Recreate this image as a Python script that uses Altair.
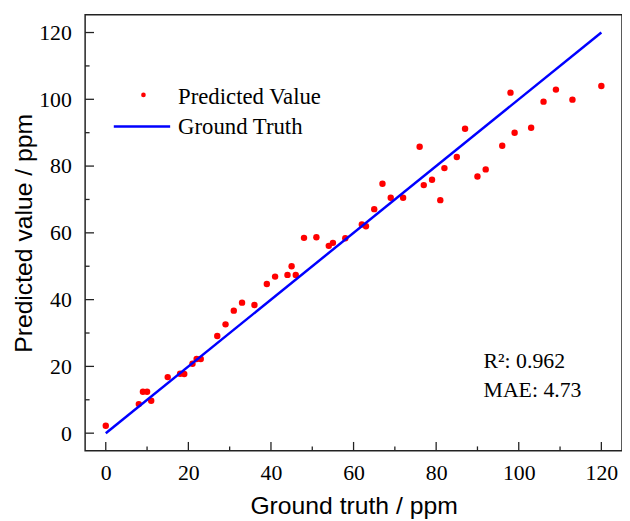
import altair as alt
import pandas as pd

# ---- data ----
ground_truth = [0, 8, 9, 10, 11, 15, 18, 19, 21, 22, 23, 27, 29, 31, 33, 36, 39, 41, 44, 45,
                46, 48, 51, 54, 55, 58, 62, 63, 65, 67, 69, 72, 76, 77, 79, 81, 82, 85, 87, 90,
                92, 96, 98, 99, 103, 106, 109, 113, 120]
predicted = [2.2, 8.7, 12.4, 12.4, 9.7, 16.8, 17.8, 17.7, 20.8, 22.2, 22.2, 29.1, 32.6, 36.7, 39.1,
             38.4, 44.7, 46.9, 47.4, 50.0, 47.4, 58.5, 58.7, 56.1, 57.0, 58.4, 62.5, 62.0, 67.1, 74.7,
             70.5, 70.5, 85.8, 74.3, 75.9, 69.8, 79.4, 82.7, 91.2, 76.9, 79.0, 86.1, 102.0, 90.0, 91.5,
             99.3, 102.9, 99.9, 104.0]
line_x = [0, 120]
line_y = [0, 120]
major_ticks = [0, 20, 40, 60, 80, 100, 120]
minor_ticks = [10, 30, 50, 70, 90, 110]
legend_labels = ["Predicted Value", "Ground Truth"]
metric_labels = ["R\u00b2: 0.962", "MAE: 4.73"]

W, H = 543, 441
SERIF = "Liberation Serif"
SANS = "Liberation Sans"

pts = pd.DataFrame({"gt": ground_truth, "pred": predicted})
ln = pd.DataFrame({"gt": line_x, "pred": line_y})
maj = pd.DataFrame({"v": major_ticks})
mnr = pd.DataFrame({"v": minor_ticks})

xs = alt.Scale(domain=[-5, 125], nice=False, zero=False)
ys = alt.Scale(domain=[-5.3, 125.3], nice=False, zero=False)

xaxis = alt.Axis(values=major_ticks, title="Ground truth / ppm", labelPadding=12, titlePadding=10)
yaxis = alt.Axis(values=major_ticks, title="Predicted value / ppm", labelPadding=14, titlePadding=2)

points = alt.Chart(pts).mark_circle(size=42, color="#ff0000", opacity=1).encode(
    x=alt.X("gt:Q", scale=xs, axis=xaxis),
    y=alt.Y("pred:Q", scale=ys, axis=yaxis),
)

line = alt.Chart(ln).mark_line(color="#0000ff", strokeWidth=2.5).encode(
    x=alt.X("gt:Q", scale=xs),
    y=alt.Y("pred:Q", scale=ys),
)

# inward ticks
xmaj = alt.Chart(maj).mark_rule(color="#222", strokeWidth=1.3).encode(
    x=alt.X("v:Q", scale=xs), y=alt.value(H), y2=alt.value(H - 9))
xmin = alt.Chart(mnr).mark_rule(color="#222", strokeWidth=1.3).encode(
    x=alt.X("v:Q", scale=xs), y=alt.value(H), y2=alt.value(H - 4.5))
ymaj = alt.Chart(maj).mark_rule(color="#222", strokeWidth=1.3).encode(
    y=alt.Y("v:Q", scale=ys), x=alt.value(0), x2=alt.value(9))
ymin = alt.Chart(mnr).mark_rule(color="#222", strokeWidth=1.3).encode(
    y=alt.Y("v:Q", scale=ys), x=alt.value(0), x2=alt.value(4.5))

# legend (manual)
leg_df = pd.DataFrame({"label": legend_labels, "row": [0, 1]})
leg_dot = alt.Chart(pd.DataFrame({"a": [0]})).mark_circle(size=22, color="#ff0000", opacity=1).encode(
    x=alt.value(59), y=alt.value(81))
leg_line = alt.Chart(pd.DataFrame({"a": [0]})).mark_rule(color="#0000ff", strokeWidth=2.5).encode(
    x=alt.value(29), x2=alt.value(86), y=alt.value(113))
leg_text1 = alt.Chart(leg_df.iloc[[0]]).mark_text(
    font=SERIF, fontSize=23, align="left", baseline="middle", color="black").encode(
    x=alt.value(94), y=alt.value(83), text="label:N")
leg_text2 = alt.Chart(leg_df.iloc[[1]]).mark_text(
    font=SERIF, fontSize=23, align="left", baseline="middle", color="black").encode(
    x=alt.value(94), y=alt.value(114), text="label:N")

met_df = pd.DataFrame({"label": metric_labels})
met1 = alt.Chart(met_df.iloc[[0]]).mark_text(
    font=SERIF, fontSize=22, align="left", baseline="middle", color="black").encode(
    x=alt.value(403), y=alt.value(350), text="label:N")
met2 = alt.Chart(met_df.iloc[[1]]).mark_text(
    font=SERIF, fontSize=22, align="left", baseline="middle", color="black").encode(
    x=alt.value(403), y=alt.value(380), text="label:N")

chart = alt.layer(
    points, line, xmaj, xmin, ymaj, ymin, leg_dot, leg_line, leg_text1, leg_text2, met1, met2
).properties(
    width=W, height=H,
    autosize=alt.AutoSizeParams(type="none"),
    padding={"left": 78, "top": 4, "right": 0, "bottom": 66},
).configure_view(
    stroke="#222", strokeWidth=1.5
).configure_axis(
    grid=False, domain=False, ticks=False,
    labelFont=SERIF, labelFontSize=22, labelColor="black",
    titleFont=SANS, titleFontSize=25, titleFontWeight="normal", titleColor="black",
)

chart.save("out.html", embed_options={"renderer": "svg", "actions": False})
